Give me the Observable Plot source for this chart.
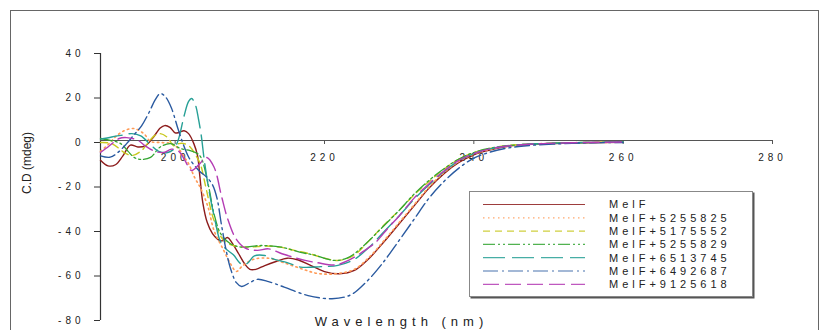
<!DOCTYPE html>
<html>
<head>
<meta charset="utf-8">
<script src="https://cdn.jsdelivr.net/npm/d3@7"></script>
<script src="https://cdn.jsdelivr.net/npm/@observablehq/plot@0.6"></script>
<style>
  body { margin: 0; background: #fff; }
  #wrap { position: relative; width: 827px; height: 330px; overflow: hidden; background: #fff; font-family: "Liberation Sans", Arial, sans-serif; }
  #frame { position: absolute; left: 10px; top: 10px; width: 807px; height: 340px; border: 1px solid #666; }
  #chart { position: absolute; left: 0; top: 0; }
  #chart svg text { letter-spacing: 4px; }
  #ytitle { position: absolute; left: 27px; top: 163px; transform: translate(-50%, -50%) rotate(-90deg); font-size: 12px; color: #222; white-space: nowrap; }
  #xtitle { position: absolute; left: 401.5px; top: 322px; transform: translate(-50%, -50%); font-size: 13px; line-height: 14px; letter-spacing: 5px; color: #222; white-space: nowrap; }
  #legend { position: absolute; left: 469px; top: 191px; width: 282px; height: 104px; border: 1px solid #888; box-shadow: 1.5px 1.5px 0 #555; background: #fff; }
  #legend svg text { letter-spacing: 4px; }
</style>
</head>
<body>
<div id="wrap">
  <div id="frame"></div>
  <div id="chart"></div>
  <div id="ytitle">C.D (mdeg)</div>
  <div id="xtitle">Wavelength (nm)</div>
  <div id="legend"></div>
</div>
<script>
const seriesNames = ["MelF", "MelF+5255825", "MelF+5175552", "MelF+5255829", "MelF+6513745", "MelF+6492687", "MelF+9125618"];
const xTicks = [200, 220, 240, 260, 280];
const yTicks = [40, 20, 0, -20, -40, -60, -80];

const melF = [[190,-8],[191,-10.5],[192,-10],[193,-6],[194,-1.2],[195,-2],[196,-1.5],[197,2],[198,6.5],[198.6,7.6],[199.3,6.8],[200,4.3],[200.5,4.5],[201.2,5.3],[201.8,4],[202.5,-0.5],[203,-6],[203.3,-15],[203.7,-27],[204.3,-36],[205,-41],[205.7,-43.5],[206.3,-44.2],[207,-42.7],[207.6,-45],[208.5,-50],[209.3,-54.5],[210,-57],[210.8,-57],[212,-55.3],[213.5,-53.5],[215,-52],[216.5,-52.8],[218,-55],[220,-58],[222,-59],[224,-57.5],[226,-52],[228,-44.5],[230,-36.5],[232,-28.5],[234,-20.5],[236,-14],[238,-9],[240,-5.5],[242,-3.5],[244,-2],[246,-1.2],[250,-0.5],[255,-0.1],[260,0.1]];
const s5255825 = [[190,-4],[191,-1],[192,2.5],[193,5],[194.4,6.3],[195.8,4],[196.7,0.5],[198,0],[199.5,-0.5],[200.5,-3],[201.3,-7],[201.8,-9.5],[202.6,-15.7],[203.4,-20.5],[204.4,-29],[205.2,-39.5],[206.5,-48.5],[207.5,-55],[208.2,-58],[209,-55.5],[210.5,-52.5],[212.5,-52],[214.5,-54],[216.8,-56.6],[219,-58.8],[221.5,-59],[224,-57],[226,-51.5],[228,-44],[230,-36],[232,-28],[234,-20],[236,-13.5],[238,-8.5],[240,-5.2],[242,-3.3],[244,-1.9],[246,-1.1],[250,-0.4],[255,0],[260,0.1]];
const s5175552 = [[190,0],[191.5,-0.5],[193.4,-5],[194.3,-5.8],[195.5,-3.6],[196.4,0],[197.2,3],[198,4],[199,2.2],[199.8,-1.5],[200.5,-0.5],[201.2,-0.5],[202,-2],[202.8,-6],[203.4,-10],[204.1,-20],[205.2,-35],[206.5,-44],[208,-46.5],[210,-47],[212,-46.5],[214,-47],[216,-48.5],[218,-50],[220,-52],[222,-53],[224,-50.5],[226,-44],[228,-37],[230,-30.5],[232,-23.5],[234,-17.5],[236,-12],[238,-7.5],[240,-4.5],[242,-2.8],[244,-1.6],[246,-1],[250,-0.4],[255,0],[260,0.2]];
const s5255829 = [[190,1.8],[191.3,1],[192.7,-0.5],[193.7,-4],[194.5,-6.7],[195.4,-7.6],[196.7,-6.7],[198,-2],[199.4,-0.5],[200.7,-2.7],[202,-3.6],[203,-5],[203.5,-7],[204.5,-20],[205.2,-32],[206.1,-41],[207.4,-45.5],[208.8,-47],[211.5,-46.3],[214.2,-47],[216.8,-49.4],[218.5,-50.5],[221.3,-53],[223,-52],[224,-50],[226,-44],[227.6,-38.6],[230,-30.5],[232,-23.2],[234,-17],[236,-11.8],[238,-7.4],[240,-4.5],[242,-2.7],[244,-1.6],[246,-1],[250,-0.4],[255,0],[260,0.2]];
const s6513745 = [[190,1.5],[191.5,2.5],[192.7,3.2],[194.2,4],[195.4,3],[196.7,-1],[197.8,-4],[199,-4.5],[199.8,-3],[200.4,1],[201.2,12],[201.8,18.5],[202.2,19.8],[202.7,17],[203.1,11],[203.5,3],[203.9,-8],[204.5,-21],[205.4,-36],[206,-44],[206.7,-47.5],[207.8,-50.5],[208.8,-54.5],[209.6,-54.5],[210.6,-51],[212,-50.8],[213.3,-52.5],[215,-54],[216.8,-56],[219.5,-55.8],[221.8,-55.2],[224,-52.5],[226,-47],[228,-40],[230,-33],[232,-25.5],[234,-19],[236,-13],[238,-8.2],[240,-5],[242,-3],[244,-1.8],[246,-1.1],[250,-0.4],[255,0],[260,0.2]];
const s6492687 = [[190,-6],[191.3,-6.6],[192.5,-4],[193.5,-0.5],[194.5,3.5],[195.5,7.5],[196.5,13.5],[197.3,19],[198,22],[198.7,20.5],[199.5,15.5],[200.3,7],[201,0],[201.8,-6.5],[202.5,-10],[203.3,-13],[204.2,-15.5],[205,-19],[205.6,-25],[206.2,-37],[206.8,-48],[207.4,-56.5],[208.2,-63],[208.9,-64.7],[210,-63],[211,-61.5],[212.5,-62.5],[214.6,-65],[217.8,-68.8],[221,-70.2],[223.5,-68.5],[225.5,-63],[227.6,-55],[230,-44],[232,-34.5],[234,-25],[236,-17.5],[238,-11.5],[240,-7],[242,-4.5],[244,-2.8],[246,-1.8],[248,-1.2],[252,-0.5],[256,-0.1],[260,0]];
const s9125618 = [[190,-4.5],[191,-2],[192.5,1.8],[193.5,2.2],[195,1],[196,-1.5],[197.3,-4],[198.5,-4.5],[199.5,-3],[200.5,-4],[201.3,-8],[202.2,-12.6],[203.3,-9.5],[204.2,-6.7],[205.2,-11],[206.2,-24],[207,-34],[208.1,-43],[209.4,-47.5],[211,-48.5],[212.5,-47.8],[214.3,-50],[217.4,-53],[219,-54],[221.5,-55],[223.2,-53],[225,-49.4],[226.8,-45],[228.5,-38.5],[230,-33],[232,-25],[234,-18.5],[236,-12.8],[238,-8],[240,-5],[242,-3],[244,-1.8],[246,-1.1],[250,-0.4],[255,0],[260,0.2]];

const seriesData = [melF, s5255825, s5175552, s5255829, s6513745, s6492687, s9125618];
const colors = ["#8c1c1c", "#ff9a55", "#c8c81e", "#33a532", "#27a096", "#2a5aa0", "#b43cb4"];
const dashes = [null, "1.5 3.5", "7 5", "12 3 2 3 2 3", "22 7", "15 4 2 4", "16 6"];
const widths = [1.4, 1.6, 1.4, 1.3, 1.4, 1.4, 1.4];

const lineMarks = seriesData.map((data, i) => Plot.line(data, {
  x: d => d[0], y: d => d[1],
  stroke: colors[i], strokeWidth: widths[i],
  strokeDasharray: dashes[i] || undefined,
  curve: "catmull-rom"
}));

const chart = Plot.plot({
  width: 827, height: 330,
  marginLeft: 100, marginRight: 55, marginTop: 53, marginBottom: 10,
  x: {domain: [190, 280], axis: null},
  y: {domain: [-80, 40], axis: null},
  style: {fontFamily: "'Liberation Sans', Arial, sans-serif", background: "transparent", color: "#222"},
  marks: [
    Plot.axisY({ticks: yTicks, tickSize: 6, tickPadding: 10, tickFormat: d => String(d), fontSize: 10, stroke: "#333", strokeWidth: 1}),
    Plot.ruleX([190], {stroke: "#333", strokeWidth: 1.2}),
    Plot.text(xTicks, {x: d => d, y: 0, dy: 15, text: d => String(d), fontSize: 10, fill: "#222"}),
    Plot.ruleY([0], {x1: 190, x2: 280, stroke: "#555", strokeWidth: 1, dy: -2}),
    Plot.ruleX(xTicks, {x: d => d, y1: 0, y2: 0, insetBottom: -4, stroke: "#555", dy: -2}),
    ...lineMarks
  ]
});
document.getElementById("chart").appendChild(chart);

// Legend
const lg = d3.select("#legend").append("svg").attr("width", 282).attr("height", 104);
seriesNames.forEach((name, i) => {
  const yy = 12.5 + 13.3 * i;
  lg.append("line").attr("x1", 13).attr("x2", 115).attr("y1", yy).attr("y2", yy)
    .attr("stroke", colors[i]).attr("stroke-width", 1.2)
    .attr("stroke-dasharray", dashes[i] || null).attr("opacity", 0.85);
  lg.append("text").attr("x", 139).attr("y", yy).attr("dy", "0.35em")
    .attr("font-size", 11).attr("fill", "#222").text(name);
});
</script>
</body>
</html>
